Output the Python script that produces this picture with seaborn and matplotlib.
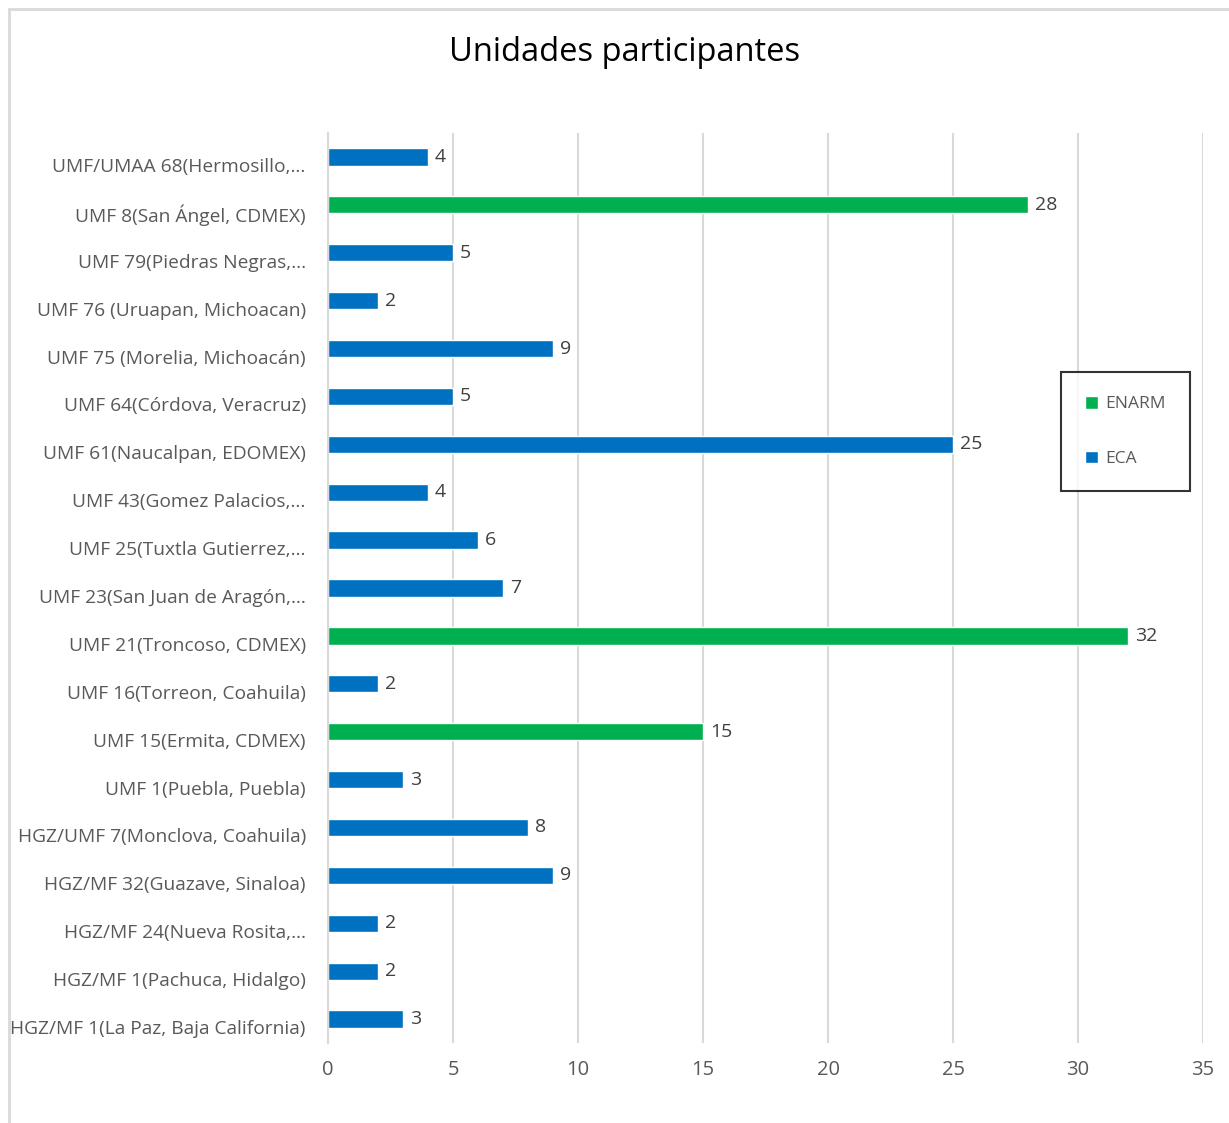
import pandas as pd
import matplotlib.pyplot as plt
import matplotlib.transforms as mtransforms
from matplotlib.patches import Rectangle
import seaborn as sns

# datos (de arriba hacia abajo)
unidades = [
    'UMF/UMAA 68(Hermosillo,…',
    'UMF 8(San Ángel, CDMEX)',
    'UMF 79(Piedras Negras,…',
    'UMF 76 (Uruapan, Michoacan)',
    'UMF 75 (Morelia, Michoacán)',
    'UMF 64(Córdova, Veracruz)',
    'UMF 61(Naucalpan, EDOMEX)',
    'UMF 43(Gomez Palacios,…',
    'UMF 25(Tuxtla Gutierrez,…',
    'UMF 23(San Juan de Aragón,…',
    'UMF 21(Troncoso, CDMEX)',
    'UMF 16(Torreon, Coahuila)',
    'UMF 15(Ermita, CDMEX)',
    'UMF 1(Puebla, Puebla)',
    'HGZ/UMF 7(Monclova, Coahuila)',
    'HGZ/MF 32(Guazave, Sinaloa)',
    'HGZ/MF 24(Nueva Rosita,…',
    'HGZ/MF 1(Pachuca, Hidalgo)',
    'HGZ/MF 1(La Paz, Baja California)',
]
participantes = [4, 28, 5, 2, 9, 5, 25, 4, 6, 7, 32, 2, 15, 3, 8, 9, 2, 2, 3]
examen = ['ECA', 'ENARM', 'ECA', 'ECA', 'ECA', 'ECA', 'ECA', 'ECA', 'ECA', 'ECA',
          'ENARM', 'ECA', 'ENARM', 'ECA', 'ECA', 'ECA', 'ECA', 'ECA', 'ECA']

colores = {'ENARM': '#00B050', 'ECA': '#0070C0'}
gris = '#595959'

df = pd.DataFrame({'unidad': unidades, 'n': participantes, 'examen': examen})

sns.set_style('white')
plt.rcParams['font.family'] = ['Open Sans', 'DejaVu Sans']

fig = plt.figure(figsize=(12.29, 11.23), dpi=100)
ax = fig.add_axes([0.2669, 0.0712, 0.712, 0.8104])

sns.barplot(data=df, y='unidad', x='n', hue='examen', hue_order=['ENARM', 'ECA'],
            palette=colores, dodge=False, width=0.36, orient='h', ax=ax,
            saturation=1, legend=True)

for cont in ax.containers:
    ax.bar_label(cont, padding=5, fontsize=14, color='#404040')

ax.set_xlim(0, 35)
ax.set_xticks(range(0, 36, 5))
ax.set_xlabel('')
ax.set_ylabel('')
ax.grid(axis='x', color='#D9D9D9', linewidth=1.5)
ax.set_axisbelow(True)
for s in ['top', 'right', 'bottom']:
    ax.spines[s].set_visible(False)
ax.spines['left'].set_color('#D9D9D9')
ax.spines['left'].set_linewidth(1.5)
ax.tick_params(axis='x', length=0, pad=12, labelsize=14.5, labelcolor=gris)
ax.tick_params(axis='y', length=0, pad=16, labelsize=13.8, labelcolor=gris)

# etiquetas ligeramente por debajo de la barra, como en Excel
desplazar = mtransforms.ScaledTranslation(0, -0.08, fig.dpi_scale_trans)
for lbl in ax.get_yticklabels():
    lbl.set_transform(lbl.get_transform() + desplazar)

fig.text(0.508, 0.953, 'Unidades participantes', ha='center', va='center',
         fontsize=23.5, color='black')

leg = ax.legend(loc='center', bbox_to_anchor=(0.9158, 0.6158),
                bbox_transform=fig.transFigure, frameon=True, fontsize=12.5,
                labelcolor=gris, handlelength=0.75, handleheight=0.75,
                handletextpad=0.4, labelspacing=2.2, borderpad=1.4,
                fancybox=False, edgecolor='black')
leg.get_frame().set_linewidth(1.5)

# borde del área del gráfico
fig.patches.append(Rectangle((0.0075, -0.01), 1.0, 1 - 0.008 + 0.01,
                             transform=fig.transFigure, fill=False,
                             edgecolor='#D9D9D9', linewidth=2))

fig.savefig('out.png', dpi=100)
